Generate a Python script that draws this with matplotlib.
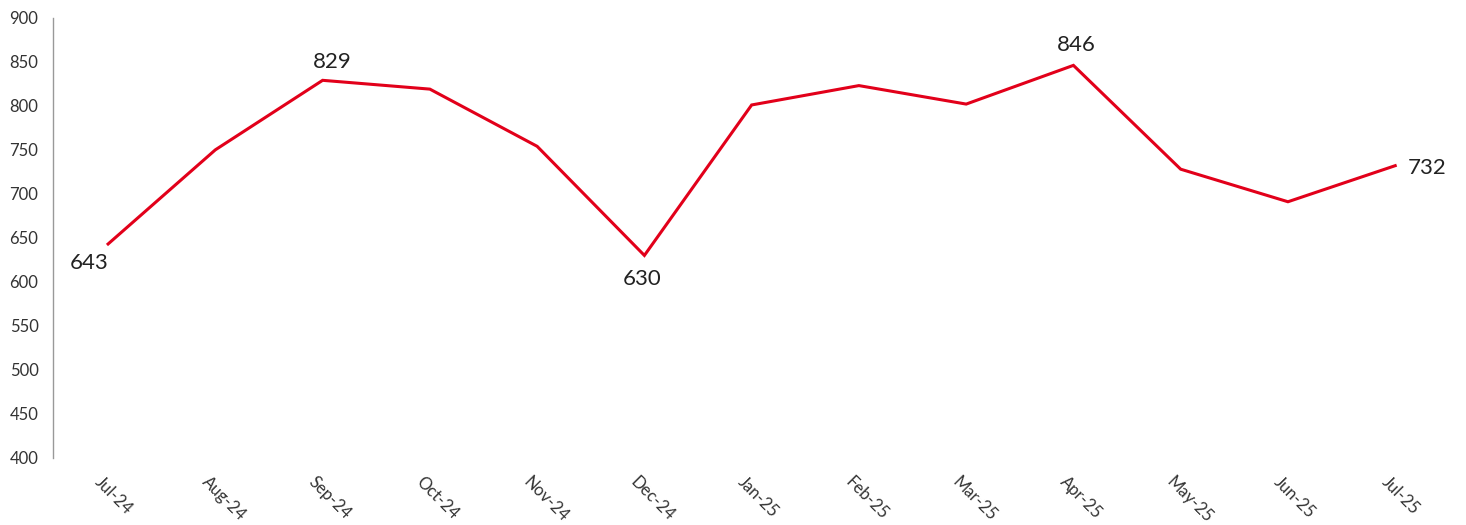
import matplotlib
matplotlib.use('Agg')
import matplotlib.pyplot as plt

months = ['Jul-24', 'Aug-24', 'Sep-24', 'Oct-24', 'Nov-24', 'Dec-24', 'Jan-25',
          'Feb-25', 'Mar-25', 'Apr-25', 'May-25', 'Jun-25', 'Jul-25']
values = [643, 750, 829, 819, 754, 630, 801, 823, 802, 846, 728, 691, 732]
# points that carry a value label, with the label offset (points) from the point
label_offsets = {0: (-14, -13.5), 2: (7, 13), 5: (-1.5, -17), 9: (2, 15), 12: (23, -2)}

plt.rcParams['font.family'] = ['Lato', 'DejaVu Sans']

fig = plt.figure(figsize=(14.66, 5.25), dpi=100)
ax = fig.add_axes([0.0362, 0.128, 0.9638, 0.838])

x = list(range(len(months)))
ax.plot(x, values, color='#e2001a', linewidth=2.2, solid_joinstyle='miter')

for i, (dx, dy) in label_offsets.items():
    ax.annotate(f'{values[i]}', (i, values[i]), xytext=(dx, dy),
                textcoords='offset points', ha='center', va='center',
                fontsize=16, color='#222222')

ax.set_ylim(400, 900)
ax.set_yticks(range(400, 901, 50))
ax.set_xlim(-0.513, 12.66)
ax.set_xticks(x)
ax.set_xticklabels([])
# month labels, slanted down to the right, starting just left of each tick
for i, m in enumerate(months):
    ax.annotate(m, (i, 0), xycoords=('data', 'axes fraction'),
                xytext=(-4, -11.5), textcoords='offset points',
                rotation=-45, rotation_mode='anchor', ha='left', va='top',
                fontsize=12, color='#333333', annotation_clip=False)
ax.tick_params(axis='y', labelsize=12, labelcolor='#333333', length=0, pad=10.5)
ax.tick_params(axis='x', length=0)

for side in ['top', 'right', 'bottom']:
    ax.spines[side].set_visible(False)
ax.spines['left'].set_color('#999999')
ax.spines['left'].set_linewidth(1.0)

fig.savefig('out.png', dpi=100)
